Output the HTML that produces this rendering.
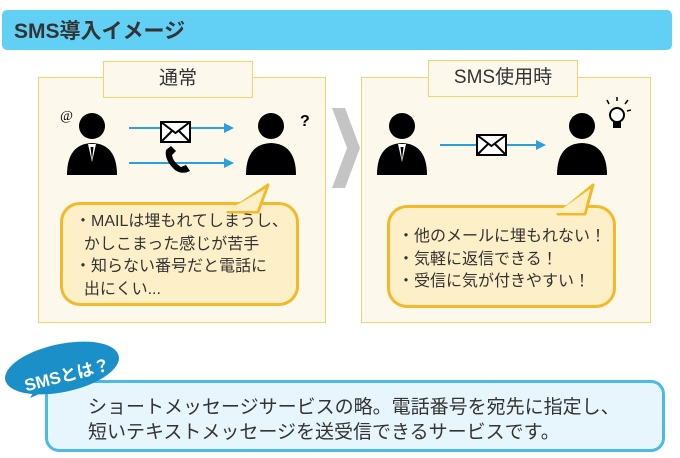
<!DOCTYPE html>
<html><head><meta charset="utf-8"><style>
*{margin:0;padding:0;box-sizing:border-box}
body{width:680px;height:458px;background:#fff;position:relative;overflow:hidden;font-family:"Liberation Sans","Noto Sans CJK JP",sans-serif;color:#333}
.a{position:absolute}
.hdr{left:2px;top:10px;width:670px;height:40px;background:#62d0f4;border-radius:5px;font-size:21px;font-weight:bold;padding:5px 0 0 12px;color:#333}
.panel{background:#fdf8ec;border:1.5px solid #f4d36a}
.ttl{background:#fdf8ec;border:1.5px solid #f4d36a;text-align:center;font-size:19px;line-height:34px}
.bub{background:#fdefc8;border:3px solid #f2b928;border-radius:20px;font-size:16px;line-height:22.5px}
</style></head><body>
<div class="a hdr">SMS導入イメージ</div>

<div class="a panel" style="left:38px;top:77px;width:288px;height:246px"></div>
<div class="a ttl" style="left:103px;top:61px;width:150px;height:37px">通常</div>
<div class="a panel" style="left:361px;top:77px;width:290px;height:246px"></div>
<div class="a ttl" style="left:428px;top:60px;width:150px;height:37px">SMS使用時</div>

<svg class="a" style="left:0;top:0" width="680" height="458">
<defs>
<g id="p"><circle cx="25" cy="14" r="13" fill="#000"/><path d="M0 63 Q0 32 25 31 Q50 32 50 63 Z" fill="#000"/></g>
<g id="pt"><use href="#p"/><path d="M21 32 L25 50 L29 32 Z" fill="#fff"/><path d="M23.5 35 L25 48 L26.5 35Z" fill="#000"/></g>
<g id="env"><rect x="0" y="0" width="29" height="20" fill="#fff" stroke="#000" stroke-width="2"/><path d="M0 0 L14.5 11 L29 0 M0 20 L11 9 M29 20 L18 9" fill="none" stroke="#000" stroke-width="2"/></g>
</defs>
<path d="M332 108 L345 108 L360 148 L345 188 L332 188 L347 148 Z" fill="#c4c4c4"/>
<use href="#pt" x="67" y="112"/><use href="#p" x="246" y="112"/>
<line x1="129" y1="128" x2="225" y2="128" stroke="#2aa1da" stroke-width="2"/><path d="M224 123 L234 128 L224 133Z" fill="#2aa1da"/>
<line x1="129" y1="163" x2="225" y2="163" stroke="#2aa1da" stroke-width="2"/><path d="M224 158 L234 163 L224 168Z" fill="#2aa1da"/>
<use href="#env" x="161" y="122"/>
<path d="M166 150 Q164 160 175 170 Q182 175 190 171 L186 165 L181 167 Q173 162 172 155 L176 151 L171 146 Z" fill="#000"/>
<text x="60" y="120" font-size="14" font-family="Liberation Serif" font-style="italic">@</text>
<text x="300" y="126" font-size="16" font-weight="bold">?</text>
<use href="#pt" x="377" y="112"/><use href="#p" x="557" y="112"/>
<line x1="440" y1="145" x2="537" y2="145" stroke="#2aa1da" stroke-width="2"/><path d="M536 140 L546 145 L536 150Z" fill="#2aa1da"/>
<use href="#env" x="477" y="135"/>
<circle cx="617" cy="115" r="7" fill="#fff" stroke="#000" stroke-width="2"/><rect x="613" y="122" width="8" height="6" fill="#000"/>
<path d="M609 104 L607 100 M617 101 L617 97 M625 104 L628 100 M627 111 L631 110" stroke="#000" stroke-width="1.5"/>
</svg>

<div class="a bub" style="left:60px;top:202px;width:239px;height:104px;padding:6px 0 0 12px">・MAILは埋もれてしまうし、<br>&nbsp;&nbsp;かしこまった感じが苦手<br>・知らない番号だと電話に<br>&nbsp;&nbsp;出にくい...</div>
<div class="a bub" style="left:387px;top:205px;width:229px;height:103px;padding:18px 0 0 8px">・他のメールに埋もれない！<br>・気軽に返信できる！<br>・受信に気が付きやすい！</div>
<svg class="a" style="left:0;top:0" width="680" height="458">
<path d="M228 212 L268 185 L258 212 Z" fill="#fdefc8" stroke="#f2b928" stroke-width="3" stroke-linejoin="round"/>
<path d="M226 211 L265 189 L257 211 Z" fill="#fdefc8"/>
<path d="M558 214 L593 185 L585 214 Z" fill="#fdefc8" stroke="#f2b928" stroke-width="3" stroke-linejoin="round"/>
<path d="M556 213 L590 189 L584 213 Z" fill="#fdefc8"/>
</svg>

<div class="a" style="left:45px;top:380px;width:620px;height:72px;background:#e6f6fc;border:3px solid #4bbbe6;border-radius:14px;font-size:19px;line-height:25px;padding:12px 0 0 40px">ショートメッセージサービスの略。電話番号を宛先に指定し、<br>短いテキストメッセージを送受信できるサービスです。</div>
<svg class="a" style="left:0;top:330px" width="160" height="80">
<path d="M40 52 L30 68 L60 55 Z" fill="#1a8fc8"/>
<ellipse cx="62" cy="38" rx="58" ry="24" transform="rotate(-12 62 38)" fill="#1a8fc8"/>
<text x="22" y="52" font-size="17" font-weight="bold" fill="#fff" transform="rotate(-14 62 40)">SMSとは？</text>
</svg>
</body></html>
